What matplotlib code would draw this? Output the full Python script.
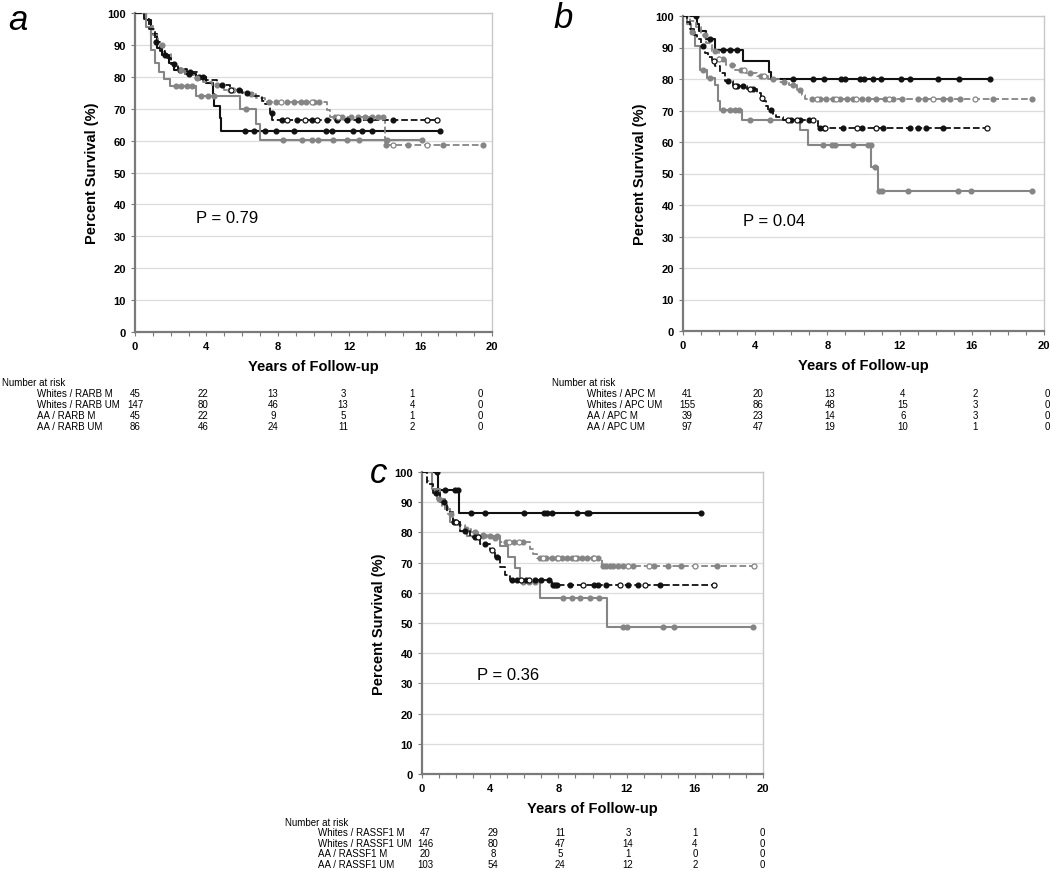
import numpy as np
import matplotlib
matplotlib.use('Agg')
import matplotlib.pyplot as plt

plt.rcParams['font.family'] = ['Liberation Sans', 'DejaVu Sans']

# ---------------- panel a (RARB) ----------------
a_wm_t = [0, 0.6, 0.9, 1.25, 1.5, 1.9, 2.2, 2.8, 3.4, 4.0, 4.35, 4.45, 4.75, 4.82]
a_wm_s = [100, 97.8, 93.3, 88.9, 86.7, 84.4, 82.2, 80.8, 80, 78.2, 74.5, 71, 67, 63.1]
a_wm_c = [1.7, 2.5, 3.0, 3.6, 6.16, 6.67, 7.28, 7.88, 8.9, 10.68, 11.05, 12.23, 12.7, 13.26, 17.09]
a_wm_end = 17.09

a_wu_t = [0, 0.5, 0.8, 1.0, 1.3, 1.6, 2.0, 2.4, 2.8, 3.3, 3.8, 4.3, 5.0, 5.6, 6.2, 6.8, 7.3, 10.75, 10.9, 14.0]
a_wu_s = [100, 98.5, 96, 93, 90, 87, 84, 82, 80.5, 79.5, 78.5, 77.5, 76, 75.2, 74.5, 73.5, 72.2, 69.6, 67.3, 58.6]
a_wu_c = [1.5, 2.6, 3.5, 4.6, 5.3, 6.5, 7.5, 7.9, 8.5, 8.9, 9.3, 9.6, 10.0, 10.3, 11.2, 11.6,
          12.1, 12.5, 12.9, 13.3, 13.6, 13.9, 14.05, 15.3, 17.27, 19.47]
a_wu_o = [5.5, 8.2, 9.9, 11.4, 14.47, 16.34]
a_wu_end = 19.47

a_am_t = [0, 0.6, 0.9, 1.1, 1.35, 1.65, 1.98, 3.42, 5.9, 6.8, 7.0]
a_am_s = [100, 95.5, 88.5, 84.2, 81.6, 79.3, 77, 74, 70, 65.3, 60.3]
a_am_c = [2.3, 2.6, 2.9, 3.2, 3.7, 4.1, 4.4, 6.2, 8.3, 9.34, 9.9, 10.27, 11.1, 11.86, 12.53, 14.1, 16.1]
a_am_end = 16.1

a_au_t = [0, 0.5, 0.8, 1.1, 1.4, 1.7, 2.0, 2.4, 2.9, 3.5, 4.0, 4.6, 5.3, 6.0, 6.6, 7.1, 7.3, 7.55, 7.7]
a_au_s = [100, 98, 95, 91, 88, 86, 84, 82.5, 81.5, 80, 79, 77.5, 76, 75, 74, 72.5, 71.5, 68.6, 66.5]
a_au_c = [1.2, 2.2, 3.1, 3.8, 4.9, 5.8, 6.3, 7.66, 8.22, 9.06, 9.9, 10.74, 11.3, 11.86, 12.5, 13.17, 14.47]
a_au_o = [5.4, 8.5, 9.5, 10.2, 16.34, 16.9]
a_au_end = 16.9

a_p = 'P = 0.79'
a_rows = ['Whites / RARB M', 'Whites / RARB UM', 'AA / RARB M', 'AA / RARB UM']
a_risk = [[45, 22, 13, 3, 1, 0], [147, 80, 46, 13, 4, 0], [45, 22, 9, 5, 1, 0], [86, 46, 24, 11, 2, 0]]

# ---------------- panel b (APC) ----------------
b_wm_t = [0, 0.75, 0.9, 1.3, 1.8, 3.3, 4.75, 4.85]
b_wm_s = [100, 97.6, 95.1, 92.6, 89.3, 85.6, 82.1, 80]
b_wm_c = [0.72, 1.5, 2.2, 2.6, 3.0, 6.1, 7.2, 7.8, 8.78, 8.97, 9.8, 10.0, 10.5, 10.96, 12.1, 12.56, 14.1, 15.3, 17.0]
b_wm_end = 17.0

b_wu_t = [0, 0.4, 0.7, 1.0, 1.3, 1.6, 2.0, 2.4, 2.9, 3.5, 4.1, 4.7, 5.3, 5.9, 6.3, 6.6, 6.75]
b_wu_s = [100, 98.5, 96.5, 94, 91.5, 89, 86.5, 84.5, 83, 82, 81, 80, 79, 78, 76.5, 75, 73.5]
b_wu_c = [1.2, 1.8, 2.2, 2.7, 3.2, 3.7, 4.3, 5.0, 5.6, 6.1, 6.5, 7.12, 7.58, 7.95, 8.32, 8.69, 9.06, 9.43,
          9.89, 10.26, 10.72, 11.18, 11.65, 12.11, 13.03, 13.4, 14.41, 14.78, 15.34, 17.18, 19.31]
b_wu_o = [2.0, 3.4, 4.5, 7.4, 8.5, 9.6, 11.4, 13.86, 16.17]
b_wu_end = 19.31

b_am_t = [0, 0.2, 0.45, 0.66, 0.94, 1.31, 1.77, 1.96, 2.05, 3.25, 6.48, 6.94, 10.44, 10.81]
b_am_s = [100, 97.4, 94.9, 90.4, 83, 80.3, 78.2, 72.9, 70.2, 67, 63.7, 59.1, 52, 44.4]
b_am_c = [0.5, 1.1, 1.5, 2.2, 2.6, 2.9, 3.1, 3.7, 4.8, 7.77, 8.23, 8.42, 9.43, 10.26, 10.39, 10.63,
          10.86, 11.0, 12.44, 15.21, 15.98, 19.31]
b_am_end = 19.31

b_au_t = [0, 0.2, 0.39, 0.6, 0.76, 1.0, 1.22, 1.4, 1.59, 1.8, 2.05, 2.32, 2.79, 3.52, 4.08, 4.3, 4.45,
          4.6, 4.72, 5.0, 5.18, 5.55, 7.49]
b_au_s = [100, 98, 95.8, 94, 92.6, 90.5, 88.3, 87, 85.6, 84, 82, 79.3, 77.7, 76.8, 75.5, 74, 72.9,
          71.5, 70.2, 69, 68, 67, 64.5]
b_au_c = [1.1, 2.5, 3.0, 3.3, 3.9, 4.9, 6.0, 6.5, 7.0, 7.6, 7.8, 8.88, 9.89, 11.09, 12.57, 13.03, 13.49, 14.41]
b_au_o = [1.7, 2.9, 3.7, 4.4, 5.8, 6.3, 7.2, 7.86, 9.62, 10.72, 16.82]
b_au_end = 16.82

b_p = 'P = 0.04'
b_rows = ['Whites / APC M', 'Whites / APC UM', 'AA / APC M', 'AA / APC UM']
b_risk = [[41, 20, 13, 4, 2, 0], [155, 86, 48, 15, 3, 0], [39, 23, 14, 6, 3, 0], [97, 47, 19, 10, 1, 0]]

# ---------------- panel c (RASSF1) ----------------
c_wm_t = [0, 0.92, 2.19]
c_wm_s = [100, 94.1, 86.3]
c_wm_c = [0.9, 1.35, 1.94, 2.13, 2.87, 3.7, 6.0, 7.16, 7.31, 7.62, 9.07, 9.7, 9.81, 16.36]
c_wm_end = 16.36

c_wu_t = [0, 0.3, 0.6, 0.9, 1.2, 1.5, 1.8, 2.1, 2.5, 2.9, 3.3, 3.8, 4.6, 6.33, 6.53, 6.73, 10.54]
c_wu_s = [100, 97, 94, 91, 88.5, 86, 84, 82.5, 81, 80, 79, 78.2, 76.9, 74.4, 73, 71.6, 68.8]
c_wu_c = [1.0, 1.7, 2.6, 3.1, 3.6, 4.3, 4.9, 5.4, 5.9, 6.9, 7.3, 7.6, 7.9, 8.2, 8.5, 8.8, 9.1, 9.4, 9.7,
          10.0, 10.3, 10.6, 10.8, 11.0, 11.2, 11.5, 11.8, 12.4, 13.6, 14.45, 15.2, 17.3]
c_wu_o = [5.1, 5.7, 7.1, 8.0, 9.0, 10.1, 12.1, 13.3, 16.0, 19.5]
c_wu_end = 19.5

c_am_t = [0, 0.6, 1.06, 1.35, 1.64, 2.23, 2.62, 4.57, 5.06, 5.45, 5.75, 6.92, 10.83]
c_am_s = [100, 94.4, 91, 87.8, 83.4, 80.6, 78.9, 75.5, 71.8, 68.2, 63.6, 58.3, 48.6]
c_am_c = [3.6, 4.0, 4.4, 5.9, 6.3, 6.6, 8.25, 8.78, 9.27, 9.85, 10.4, 11.8, 12.0, 14.15, 14.78, 19.43]
c_am_end = 19.43

c_au_t = [0, 0.27, 0.66, 1.06, 1.45, 1.84, 2.23, 2.81, 3.4, 3.99, 4.28, 4.57, 4.87, 5.16, 7.6]
c_au_s = [100, 96, 93.2, 90, 86.6, 83.3, 80.6, 78.4, 76.2, 74.1, 71.9, 68.6, 65.8, 64.4, 62.5]
c_au_c = [0.8, 1.3, 1.9, 2.5, 3.1, 3.7, 4.4, 5.3, 5.6, 6.1, 6.6, 7.0, 7.45, 7.7, 7.8, 7.9, 8.68,
          10.1, 10.3, 10.8, 12.1, 12.68, 13.96]
c_au_o = [2.0, 3.3, 4.1, 5.8, 6.3, 9.47, 11.6, 13.06, 17.15]
c_au_end = 17.15

c_p = 'P = 0.36'
c_rows = ['Whites / RASSF1 M', 'Whites / RASSF1 UM', 'AA / RASSF1 M', 'AA / RASSF1 UM']
c_risk = [[47, 29, 11, 3, 1, 0], [146, 80, 47, 14, 4, 0], [20, 8, 5, 1, 0, 0], [103, 54, 24, 12, 2, 0]]

BLACK = '#111111'
GRAY = '#858585'
W, H = 1050, 870


def fx(x):
    return x / W


def fy(y):
    return 1 - y / H


def km(ax, t, s, end, cens, opens, color, ls, lw):
    t = np.asarray(t, float)
    s = np.asarray(s, float)
    ax.step(np.append(t, end), np.append(s, s[-1]), where='post', color=color,
            linestyle=ls, lw=lw, zorder=3)
    cens = np.asarray(cens, float)
    yc = s[np.searchsorted(t, cens, side='right') - 1]
    ax.plot(cens, yc, 'o', color=color, ms=3.4, mec=color, zorder=4)
    if opens:
        opens = np.asarray(opens, float)
        yo = s[np.searchsorted(t, opens, side='right') - 1]
        ax.plot(opens, yo, 'o', color=color, ms=3.6, mfc='white', mec=color, mew=0.9, zorder=5)


def panel(rect, curves, ptxt, ppos):
    ax = fig.add_axes(rect)
    ax.set_xlim(0, 20)
    ax.set_ylim(0, 100)
    ax.set_yticks(np.arange(0, 101, 10))
    ax.set_xticks(np.arange(0, 21, 4))
    ax.set_xticks(np.arange(0, 21, 1), minor=True)
    ax.yaxis.grid(True, color='#dcdcdc', lw=0.9)
    ax.set_axisbelow(True)
    for sp in ['left', 'bottom']:
        ax.spines[sp].set_color('#7a7a7a')
        ax.spines[sp].set_linewidth(1.6)
    for sp in ['top', 'right']:
        ax.spines[sp].set_color('#c8c8c8')
        ax.spines[sp].set_linewidth(1.0)
    ax.tick_params(axis='both', which='both', direction='out', length=3, width=0.8,
                   color='#7a7a7a', labelsize=8)
    for lab in ax.get_xticklabels() + ax.get_yticklabels():
        lab.set_fontweight('bold')
    ax.set_xlabel('Years of Follow-up', fontsize=10.5, fontweight='bold', labelpad=6)
    ax.set_ylabel('Percent Survival (%)', fontsize=10.5, fontweight='bold', labelpad=6)
    for (t, s, end, c, o, color, ls, lw) in curves:
        km(ax, t, s, end, c, o, color, ls, lw)
    ax.text(ppos[0], ppos[1], ptxt, fontsize=12, va='center', ha='left')
    return ax


def risk_table(x0, y0, xlab, xnums, rows, risk, step):
    fig.text(fx(x0), fy(y0), 'Number at risk', fontsize=7, va='center', ha='left')
    for i, (name, vals) in enumerate(zip(rows, risk)):
        yy = y0 + step * (i + 1)
        fig.text(fx(xlab), fy(yy), name, fontsize=7, va='center', ha='left')
        for xv, v in zip(xnums, vals):
            fig.text(fx(xv), fy(yy), str(v), fontsize=7, va='center', ha='center')


fig = plt.figure(figsize=(10.5, 8.7), dpi=100)

panel([fx(135), fy(333), fx(492) - fx(135), fy(14) - fy(333)],
      [(a_wm_t, a_wm_s, a_wm_end, a_wm_c, None, BLACK, '-', 1.5),
       (a_am_t, a_am_s, a_am_end, a_am_c, None, GRAY, '-', 1.5),
       (a_wu_t, a_wu_s, a_wu_end, a_wu_c, a_wu_o, GRAY, '--', 1.3),
       (a_au_t, a_au_s, a_au_end, a_au_c, a_au_o, BLACK, '--', 1.3)],
      a_p, (3.4, 36))

panel([fx(683), fy(332), fx(1044) - fx(683), fy(17) - fy(332)],
      [(b_wm_t, b_wm_s, b_wm_end, b_wm_c, None, BLACK, '-', 1.5),
       (b_am_t, b_am_s, b_am_end, b_am_c, None, GRAY, '-', 1.5),
       (b_wu_t, b_wu_s, b_wu_end, b_wu_c, b_wu_o, GRAY, '--', 1.3),
       (b_au_t, b_au_s, b_au_end, b_au_c, b_au_o, BLACK, '--', 1.3)],
      b_p, (3.3, 35))

panel([fx(422), fy(775), fx(763) - fx(422), fy(473) - fy(775)],
      [(c_wm_t, c_wm_s, c_wm_end, c_wm_c, None, BLACK, '-', 1.5),
       (c_am_t, c_am_s, c_am_end, c_am_c, None, GRAY, '-', 1.5),
       (c_wu_t, c_wu_s, c_wu_end, c_wu_c, c_wu_o, GRAY, '--', 1.3),
       (c_au_t, c_au_s, c_au_end, c_au_c, c_au_o, BLACK, '--', 1.3)],
      c_p, (3.2, 33))

risk_table(2, 383, 37, [135, 203, 273, 343, 412, 480], a_rows, a_risk, 11)
risk_table(552, 383, 587, [687, 758, 830, 903, 975, 1047], b_rows, b_risk, 11)
risk_table(285, 823, 318, [425, 493, 560, 628, 695, 762], c_rows, c_risk, 10.5)

fig.text(fx(8), fy(20), 'a', fontsize=25, style='italic', va='center', ha='left')
fig.text(fx(553), fy(18), 'b', fontsize=25, style='italic', va='center', ha='left')
fig.text(fx(370), fy(474), 'c', fontsize=25, style='italic', va='center', ha='left')

fig.savefig('out.png', dpi=100)
